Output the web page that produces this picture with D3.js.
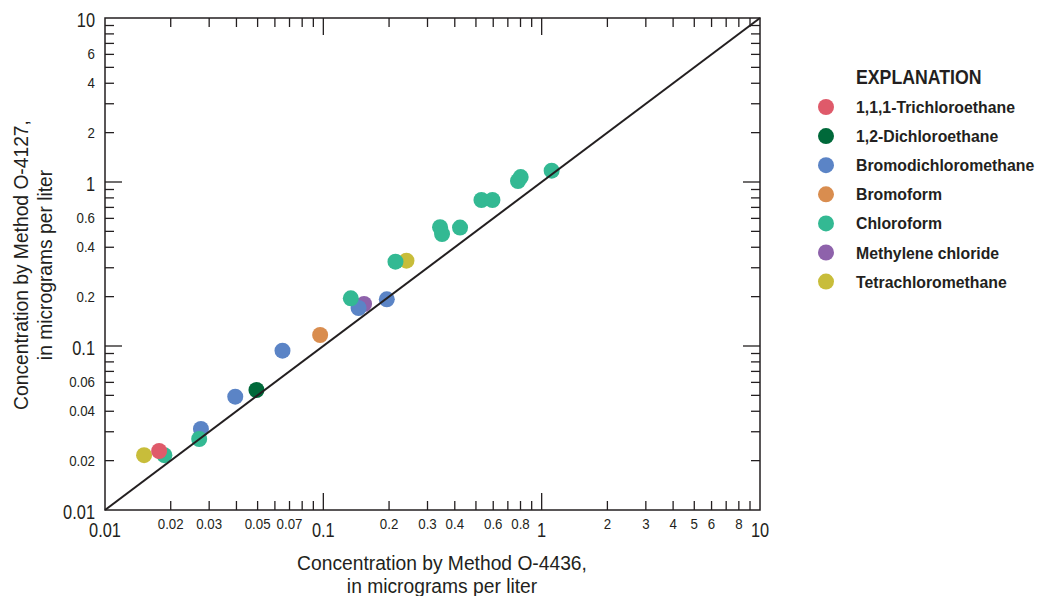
<!DOCTYPE html>
<html>
<head>
<meta charset="utf-8">
<script src="https://cdn.jsdelivr.net/npm/d3@7"></script>
<style>
  body { margin: 0; background: #fff; }
  svg { font-family: "Liberation Sans", Arial, sans-serif; fill: #231f20; }
</style>
</head>
<body>
<svg id="chart" width="1037" height="596"></svg>
<script>
// compound names and legend colours
const compounds = [
    "1,1,1-Trichloroethane",
    "1,2-Dichloroethane",
    "Bromodichloromethane",
    "Bromoform",
    "Chloroform",
    "Methylene chloride",
    "Tetrachloromethane"
];
const colors = ["#df5a6a", "#00693a", "#5b84c6", "#d98d4f", "#33b993", "#8e62ab", "#c8bd3a"];

// [O-4436, O-4127] pairs, micrograms per liter
const trichloroethane = [[0.0177, 0.0229]];
const dichloroethane = [[0.0494, 0.0539]];
const bromodichloromethane = [[0.0275, 0.0312], [0.0395, 0.0491], [0.065, 0.0936], [0.145, 0.1705], [0.1953, 0.1926]];
const bromoform = [[0.0967, 0.1167]];
const chloroform = [
    [0.0187, 0.0216], [0.027, 0.0271], [0.1336, 0.1954], [0.214, 0.3266],
    [0.3424, 0.53], [0.3497, 0.482], [0.4228, 0.527], [0.53, 0.777],
    [0.595, 0.777], [0.779, 1.014], [0.8015, 1.072], [1.111, 1.172]
];
const methyleneChloride = [[0.1537, 0.1803]];
const tetrachloromethane = [[0.0151, 0.0216], [0.2403, 0.3313]];

const majorTicks = [0.01, 0.1, 1, 10];
const minorTicks = [0.02, 0.03, 0.04, 0.05, 0.06, 0.07, 0.08, 0.09,
    0.2, 0.3, 0.4, 0.5, 0.6, 0.7, 0.8, 0.9, 2, 3, 4, 5, 6, 7, 8, 9];
const xMinorLabels = [0.02, 0.03, 0.05, 0.07, 0.2, 0.3, 0.4, 0.6, 0.8, 2, 3, 4, 5, 6, 8];
const yMinorLabels = [0.02, 0.04, 0.06, 0.2, 0.4, 0.6, 2, 4, 6];

const pointSets = [trichloroethane, dichloroethane, bromodichloromethane, bromoform,
    chloroform, methyleneChloride, tetrachloromethane];
// draw order so overlaps stack like the original
const drawOrder = [6, 5, 2, 3, 4, 1, 0];

const svg = d3.select("#chart");
const plotLeft = 105, plotRight = 760, plotTop = 18, plotBottom = 510;

const x = d3.scaleLog().domain([0.01, 10]).range([plotLeft, plotRight]);
const y = d3.scaleLog().domain([0.01, 10]).range([plotBottom, plotTop]);

const fmt = d => String(d);
const MAJOR = 17, MINOR = 9;
// no condensed face installed, so squeeze the text horizontally
const at = (px, py, s) => `translate(${ px },${ py }) scale(${ s },1)`;

// frame
svg.append("rect")
    .attr("x", plotLeft).attr("y", plotTop)
    .attr("width", plotRight - plotLeft).attr("height", plotBottom - plotTop)
    .attr("fill", "none").attr("stroke", "#231f20").attr("stroke-width", 1.5);

// ticks on all four sides, pointing inward
const tickGroup = svg.append("g").attr("stroke", "#231f20").attr("stroke-width", 1.3);
const allTicks = majorTicks.slice(1, 3).map(v => ({ v, len: MAJOR }))
    .concat(minorTicks.map(v => ({ v, len: MINOR })));

allTicks.forEach(t => {
    tickGroup.append("line").attr("x1", x(t.v)).attr("x2", x(t.v)).attr("y1", plotBottom).attr("y2", plotBottom - t.len);
    tickGroup.append("line").attr("x1", x(t.v)).attr("x2", x(t.v)).attr("y1", plotTop).attr("y2", plotTop + t.len);
    tickGroup.append("line").attr("y1", y(t.v)).attr("y2", y(t.v)).attr("x1", plotLeft).attr("x2", plotLeft + t.len);
    tickGroup.append("line").attr("y1", y(t.v)).attr("y2", y(t.v)).attr("x1", plotRight).attr("x2", plotRight - t.len);
});

// x tick labels
const xLabels = svg.append("g").attr("text-anchor", "middle");
xLabels.selectAll(".minor").data(xMinorLabels).join("text")
    .attr("class", "minor")
    .attr("transform", d => at(x(d), 529, 0.95))
    .attr("font-size", 14).text(fmt);
xLabels.selectAll(".major").data(majorTicks).join("text")
    .attr("class", "major")
    .attr("transform", d => at(x(d), 537, 0.78))
    .attr("font-size", 21).text(fmt);

// y tick labels
const yLabels = svg.append("g").attr("text-anchor", "end");
yLabels.selectAll(".minor").data(yMinorLabels).join("text")
    .attr("class", "minor")
    .attr("transform", d => at(95, y(d) + 5, 0.95))
    .attr("font-size", 14).text(fmt);
yLabels.selectAll(".major").data(majorTicks).join("text")
    .attr("class", "major")
    .attr("transform", d => at(95, y(d) + 8.5, 0.78))
    .attr("font-size", 21).text(fmt);

// points
const pts = svg.append("g");
drawOrder.forEach(i => {
    pts.selectAll(null).data(pointSets[i]).join("circle")
        .attr("cx", d => x(d[0]))
        .attr("cy", d => y(d[1]))
        .attr("r", 8)
        .attr("fill", colors[i]);
});

// 1:1 line
svg.append("line")
    .attr("x1", x(0.01)).attr("y1", y(0.01))
    .attr("x2", x(10)).attr("y2", y(10))
    .attr("stroke", "#231f20").attr("stroke-width", 2);

// axis titles
const xTitle = svg.append("text").attr("text-anchor", "middle").attr("font-size", 21)
    .attr("transform", at(442, 0, 0.917));
xTitle.append("tspan").attr("x", 0).attr("y", 570).text("Concentration by Method O-4436,");
xTitle.append("tspan").attr("x", 0).attr("y", 593).text("in micrograms per liter");

const yTitle = svg.append("text").attr("text-anchor", "middle").attr("font-size", 21)
    .attr("transform", "translate(0,265) rotate(-90) scale(0.917,1)");
yTitle.append("tspan").attr("x", 0).attr("y", 28.5).text("Concentration by Method O-4127,");
yTitle.append("tspan").attr("x", 0).attr("y", 52.5).text("in micrograms per liter");

// legend
const legend = svg.append("g").attr("transform", "translate(826,0)");
legend.append("text")
    .attr("transform", at(30, 84, 0.886))
    .attr("font-size", 20).attr("font-weight", "bold")
    .text("EXPLANATION");
const item = legend.selectAll(".item").data(compounds).join("g")
    .attr("class", "item")
    .attr("transform", (d, i) => `translate(0,${ 107 + i * 29.1 })`);
item.append("circle").attr("r", 8).attr("fill", (d, i) => colors[i]);
item.append("text")
    .attr("transform", at(30, 6, 0.93))
    .attr("font-size", 17).attr("font-weight", "bold")
    .text(d => d);
</script>
</body>
</html>
